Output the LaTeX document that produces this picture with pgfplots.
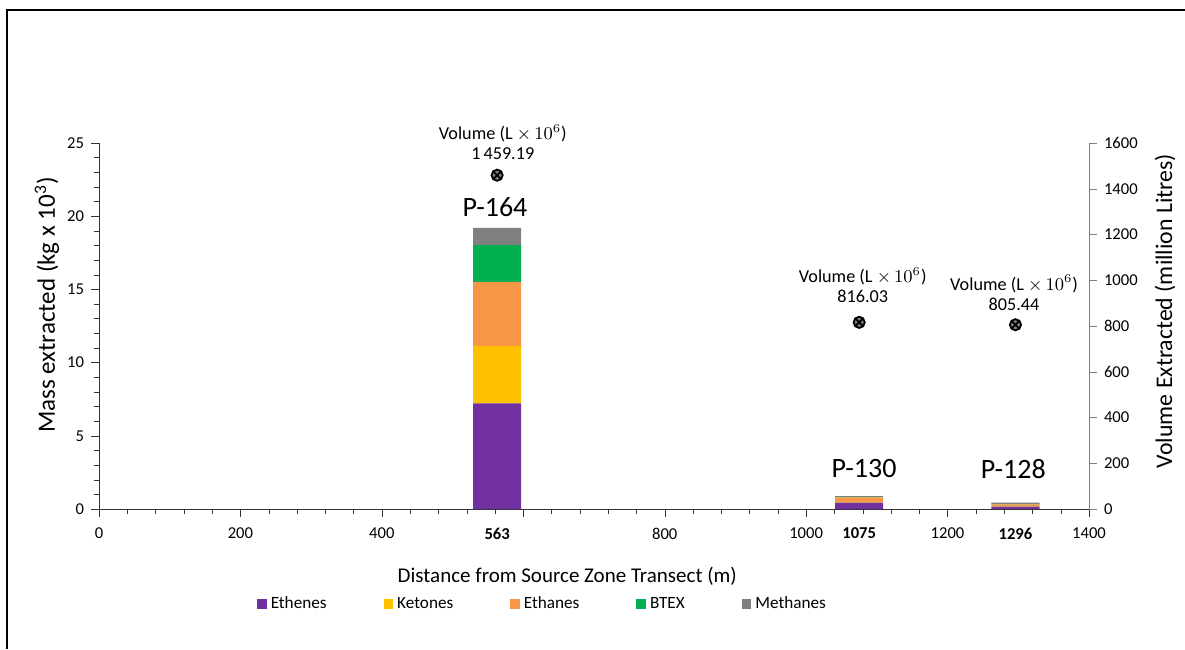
\documentclass[border=0pt]{standalone}
\usepackage{pgfplots}
\pgfplotsset{compat=1.18}
\usepackage{fontspec}
\setmainfont{Carlito}
\definecolor{cEthenes}{HTML}{7030A0}
\definecolor{cKetones}{HTML}{FFC000}
\definecolor{cEthanes}{HTML}{F79646}
\definecolor{cBTEX}{HTML}{00B050}
\definecolor{cMethanes}{HTML}{808080}
\begin{document}
\begin{tikzpicture}
\useasboundingbox (0,0) rectangle (592.5pt,324.5pt);
\draw[line width=1pt] (3.5pt,0) -- (3.5pt,319.5pt) -- (592.5pt,319.5pt);
\begin{axis}[
  at={(49.5pt,70pt)}, anchor=south west,
  scale only axis, width=495pt, height=183pt,
  xmin=0, xmax=1400, ymin=0, ymax=25,
  axis y line*=left, axis x line*=bottom,
  axis line style={black!80},
  xtick={0,200,400,600,800,1000,1200,1400},
  xticklabels={0,200,400,,800,1000,1200,1400},
  minor x tick num=4,
  extra x ticks={563,1075,1296},
  extra x tick labels={\textbf{563},\textbf{1075},\textbf{1296}},
  extra x tick style={tick style={draw=none}, grid=none},
  ytick={0,5,10,15,20,25},
  minor y tick num=4,
  tick align=outside,
  major tick length=4pt, minor tick length=2.5pt,
  tick style={black!80},
  /pgf/number format/assume math mode=true,
  /pgf/number format/1000 sep={},
  ticklabel style={font=\fontsize{8.3}{10}\selectfont},
  xticklabel style={yshift=-2pt},
  xlabel={Distance from Source Zone Transect (m)},
  ylabel={Mass extracted (kg x 10\textsuperscript{3})},
  xlabel style={font=\fontsize{10.5}{12}\selectfont, at={(axis description cs:0.473,-0.183)}, anchor=center},
  ylabel style={font=\fontsize{12.5}{14}\selectfont, at={(axis description cs:-0.0525,0.557)}, anchor=center},
  ybar stacked, bar width=68,
  clip=false,
  legend columns=5,
  legend style={at={(0.449,-0.26)}, anchor=center, draw=none,
    font=\fontsize{8.6}{10}\selectfont,
    /tikz/every even column/.append style={column sep=26.5pt},
    /tikz/every odd column/.append style={column sep=0pt}},
  legend image code/.code={\fill[#1] (0pt,-2.4pt) rectangle (4.8pt,2.4pt);},
]
\addplot[fill=cEthenes, draw=none] coordinates {(563,7.22) (1075,0.43) (1296,0.16)};
\addlegendentry{Ethenes}
\addplot[fill=cKetones, draw=none] coordinates {(563,3.9) (1075,0.05) (1296,0.03)};
\addlegendentry{Ketones}
\addplot[fill=cEthanes, draw=none] coordinates {(563,4.4) (1075,0.32) (1296,0.12)};
\addlegendentry{Ethanes}
\addplot[fill=cBTEX, draw=none] coordinates {(563,2.5) (1075,0.03) (1296,0.03)};
\addlegendentry{BTEX}
\addplot[fill=cMethanes, draw=none] coordinates {(563,1.18) (1075,0.05) (1296,0.09)};
\addlegendentry{Methanes}
\end{axis}
\begin{axis}[
  at={(49.5pt,70pt)}, anchor=south west,
  scale only axis, width=495pt, height=183pt,
  xmin=0, xmax=1400, ymin=0, ymax=1600,
  axis y line*=right, axis x line=none,
  axis line style={black!50},
  ytick={0,200,...,1600},
  tick align=outside, major tick length=4pt,
  tick style={black!50},
  /pgf/number format/assume math mode=true,
  /pgf/number format/1000 sep={},
  ticklabel style={font=\fontsize{8.3}{10}\selectfont},
  ylabel={Volume Extracted (million Litres)},
  ylabel style={font=\fontsize{11.9}{13}\selectfont, at={(axis description cs:1.0768,0.541)}, anchor=center},
  clip=false,
]
\addplot[only marks, mark=otimes*, mark size=2.8pt, mark options={fill=black!50, draw=black, line width=0.9pt}]
  coordinates {(563,1459.19) (1075,816.03) (1296,805.44)};
\node[align=center, font=\fontsize{9.1}{10}\selectfont] at (axis cs:571,1604) {Volume (L $\times\, 10^{6}$)\\1\,459.19};
\node[align=center, font=\fontsize{9.1}{10}\selectfont] at (axis cs:1080,979) {Volume (L $\times\, 10^{6}$)\\816.03};
\node[align=center, font=\fontsize{9.1}{10}\selectfont] at (axis cs:1294,946) {Volume (L $\times\, 10^{6}$)\\805.44};
\node[font=\fontsize{14}{16}\selectfont] at (axis cs:560,1320) {P-164};
\node[font=\fontsize{14}{16}\selectfont] at (axis cs:1082,175) {P-130};
\node[font=\fontsize{14}{16}\selectfont] at (axis cs:1293,175) {P-128};
\end{axis}
\end{tikzpicture}
\end{document}
